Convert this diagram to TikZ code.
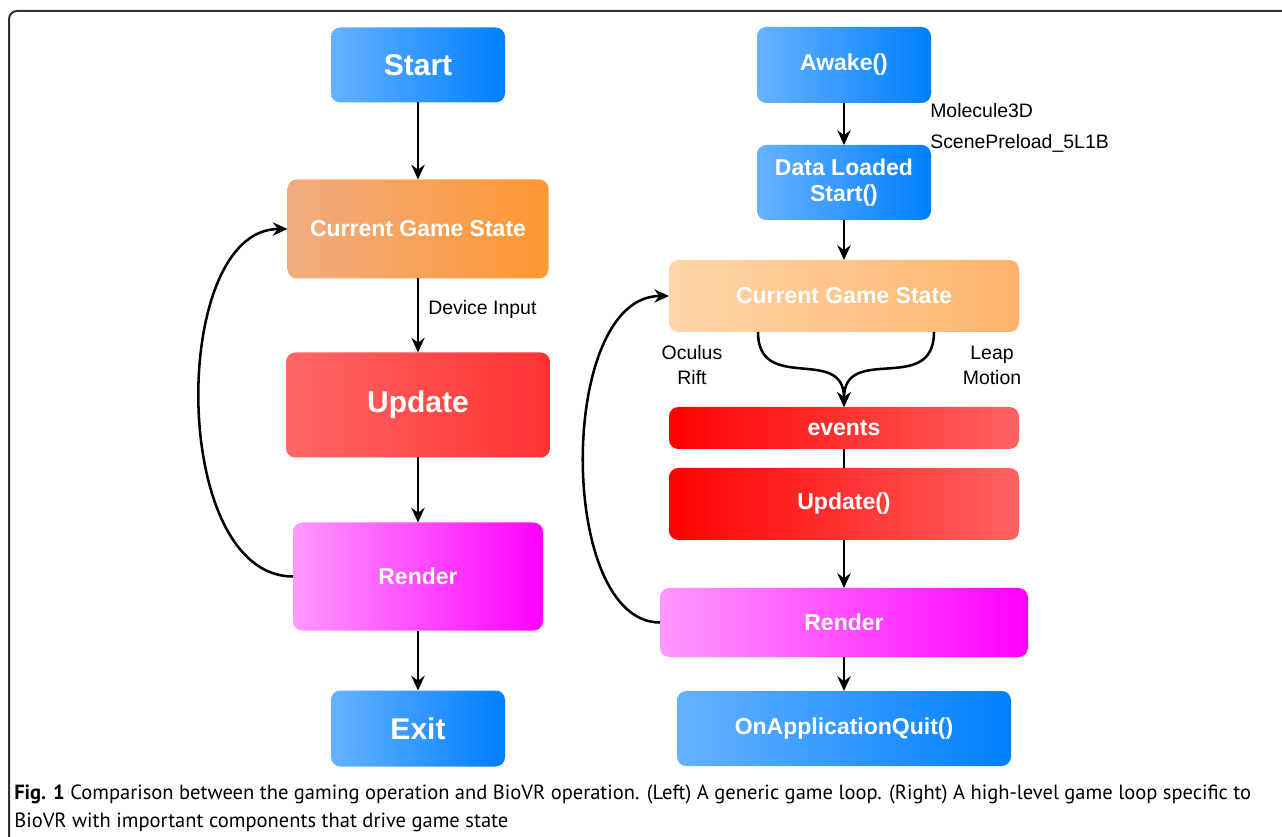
\documentclass[tikz,border=0pt]{standalone}
\usepackage{fontspec}
\setmainfont{Liberation Sans}
\newfontfamily\capfont{PT Sans}
\usetikzlibrary{arrows.meta,positioning}
\definecolor{blueL}{RGB}{102,178,255}
\definecolor{blueR}{RGB}{0,127,255}
\definecolor{orangeL}{RGB}{240,172,128}
\definecolor{orangeR}{RGB}{255,151,51}
\definecolor{redL}{RGB}{255,102,102}
\definecolor{redR}{RGB}{255,51,51}
\definecolor{pinkL}{RGB}{255,153,255}
\definecolor{pinkR}{RGB}{255,0,255}
\definecolor{peachL}{RGB}{255,214,170}
\definecolor{peachR}{RGB}{255,179,107}
\definecolor{fireL}{RGB}{255,0,0}
\definecolor{fireR}{RGB}{255,99,99}
\newcommand{\boxfont}{\fontsize{17.25}{20}\selectfont\bfseries}
\newcommand{\bigfont}{\fontsize{22.5}{26}\selectfont\bfseries}
\newcommand{\labfont}{\fontsize{14.6}{18.75}\selectfont}
\newcommand{\capsize}{\fontsize{15.4}{21}\selectfont}
\tikzset{
    x = 0.75pt, y = -0.75pt,
    stage/.style = { rectangle, align=center,
        rounded corners=7pt,
        text=white, font=\boxfont,
        inner sep=0pt, outer sep=0pt
    },
    bigstage/.style = { stage, font=\bigfont },
    bluestage/.style = { left color=blueL, right color=blueR },
    orangestage/.style = { left color=orangeL, right color=orangeR },
    redstage/.style = { left color=redL, right color=redR },
    pinkstage/.style = { left color=pinkL, right color=pinkR },
    peachstage/.style = { left color=peachL, right color=peachR },
    firestage/.style = { left color=fireL, right color=fireR },
    notes/.style = { align=center, inner sep=0pt, font=\labfont },
    arrow/.style = { line width=1.9pt, -{Stealth[length=11pt,width=10pt]} },
    plain/.style = { line width=1.9pt },
    frame/.style = { line width=1.5pt, draw=black!80, rounded corners=6pt }
}

\begin{document}
\begin{tikzpicture}
        \useasboundingbox (0,0) rectangle (1282,837);
        \draw[frame] (9,845) -- (9,11) -- (1290,11);

        % left loop...
        \node[bigstage, bluestage, minimum width=130.5pt, minimum height=56.25pt] (start) at (418,65) {Start};
        \node[stage, orangestage, minimum width=195.75pt, minimum height=74.25pt] (state) [below=57.75pt of start] {Current Game State};
        \node[bigstage, redstage, minimum width=198pt, minimum height=78.75pt] (update) [below=55.5pt of state] {Update};
        \node[stage, pinkstage, minimum width=187.5pt, minimum height=81pt] (render) [below=48.75pt of update] {Render};
        \node[bigstage, bluestage, minimum width=130.5pt, minimum height=57pt] (exit) [below=45pt of render] {Exit};
        \node[notes, anchor=west] (device) at (428,309) {Device Input};

        % right loop...
        \node[stage, bluestage, minimum width=130.5pt, minimum height=57pt] (awake) at (844,65) {Awake()};
        \node[stage, bluestage, minimum width=130.5pt, minimum height=56.25pt] (loaded) [below=31.5pt of awake] {Data Loaded\\Start()};
        \node[stage, peachstage, minimum width=262.5pt, minimum height=54pt] (stateR) [below=30pt of loaded] {Current Game State};
        \node[stage, firestage, minimum width=262.5pt, minimum height=31.5pt] (events) [below=56.25pt of stateR] {events};
        \node[stage, firestage, minimum width=262.5pt, minimum height=54pt] (updateR) [below=14.25pt of events] {Update()};
        \node[stage, pinkstage, minimum width=276pt, minimum height=51.75pt] (renderR) [below=36pt of updateR] {Render};
        \node[stage, bluestage, minimum width=250.5pt, minimum height=56.25pt] (quit) [below=25.5pt of renderR] {OnApplicationQuit()};

        \node[notes, anchor=west] (molecule) at (930,111) {Molecule3D};
        \node[notes, anchor=west] (preload) at (930,143) {ScenePreload\_5L1B};
        \node[notes] (oculus) at (692,365) {Oculus\\Rift};
        \node[notes] (leap) at (992,365) {Leap\\Motion};

        \node[anchor=west, align=left, inner sep=0pt, font=\capfont\capsize] (caption) at (14,808)
            {\textbf{Fig. 1} Comparison between the gaming operation and BioVR operation. (Left) A generic game loop. (Right) A high-level game loop specific to\\BioVR with important components that drive game state};

        % arrows...
        \draw[arrow] (start) -- (state);
        \draw[arrow] (state) -- (update);
        \draw[arrow] (update) -- (render);
        \draw[arrow] (render) -- (exit);
        \draw[arrow] (render.west) .. controls +(-124,0) and +(-118,0) .. (state.west);

        \draw[arrow] (awake) -- (loaded);
        \draw[arrow] (loaded) -- (stateR);
        \draw[arrow] ([xshift=-64.5pt]stateR.south) to[out=-90, in=90, looseness=1.4] (events.north);
        \draw[arrow] ([xshift=67.5pt]stateR.south) to[out=-90, in=90, looseness=1.4] (events.north);
        \draw[plain] (events) -- (updateR);
        \draw[arrow] (updateR) -- (renderR);
        \draw[arrow] (renderR) -- (quit);
        \draw[arrow] (renderR.west) .. controls +(-103,0) and +(-112,0) .. (stateR.west);
\end{tikzpicture}
\end{document}
